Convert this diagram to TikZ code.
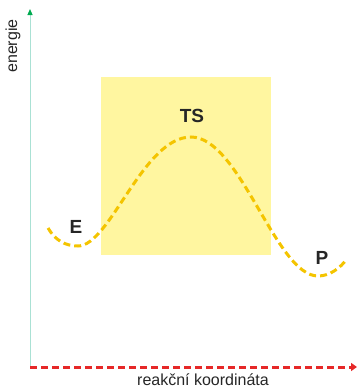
\documentclass[tikz,border=0pt]{standalone}
\usepackage{fontspec}
\setmainfont{Liberation Sans}
\usepackage{tikz}
\definecolor{tsyellow}{RGB}{255,246,160}
\definecolor{curveyellow}{RGB}{244,196,0}
\definecolor{axisteal}{RGB}{170,225,212}
\definecolor{axisgreen}{RGB}{0,170,80}
\definecolor{axisred}{RGB}{230,40,40}
\usetikzlibrary{arrows.meta}

\begin{document}
\begin{tikzpicture}[x=1pt, y=-1pt,
        state/.style={font=\fontsize{19}{21}\selectfont\bfseries, text=black!85},
        axislabel/.style={font=\fontsize{16}{18}\selectfont, text=black!85},
        >=Triangle]
        % Bildbereich
        \useasboundingbox (0,0) rectangle (358,389);
        % Bereich des Übergangszustands
        \fill[tsyellow] (101,77) rectangle (271,255);
        % Achsen
        \coordinate (O) at (30,367);
        \coordinate (ytop) at (30,9);
        \coordinate (xend) at (357,367);
        \draw[axisteal, line width=1pt, -{Triangle[color=axisgreen, length=6pt, width=5pt]}] (O) -- (ytop);
        \draw[axisred, line width=3pt, dash pattern=on 7pt off 4pt, -{Triangle[length=6pt, width=8pt]}] (O) -- (xend);
        % Achsen beschriften
        \node[axislabel, rotate=90] (energy) at (13,46) {energie};
        \node[axislabel] (coord) at (203,380) {reakční koordináta};
        % Energieprofil
        \coordinate (start) at (48,228);
        \coordinate (Emin) at (78,246);
        \coordinate (peak) at (191,137);
        \coordinate (Pmin) at (318,276);
        \coordinate (stop) at (347,259);
        \draw[curveyellow, line width=3pt, dash pattern=on 7pt off 4pt]
            (start) .. controls (55,240) and (65,246) .. (Emin)
            .. controls (110,246) and (143,137) .. (peak)
            .. controls (240,137) and (276,276) .. (Pmin)
            .. controls (330,276) and (340,268) .. (stop);
        % Beschriftung
        \node[state] (E) at (76,227) {E};
        \node[state] (TS) at (192,116) {TS};
        \node[state] (P) at (322,258) {P};
    \end{tikzpicture}
\end{document}
